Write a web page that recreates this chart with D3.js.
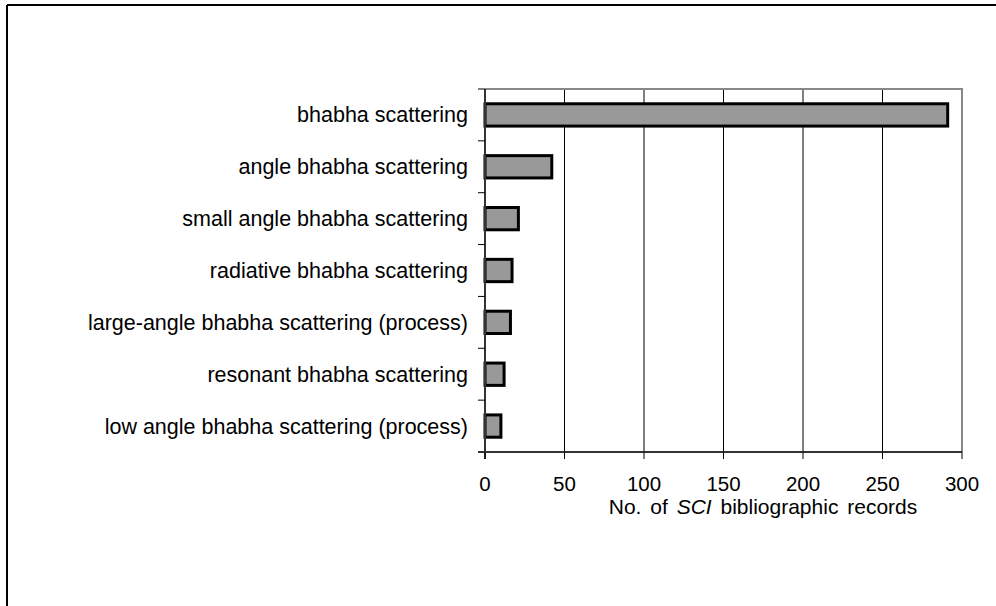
<!DOCTYPE html>
<html>
<head>
<meta charset="utf-8">
<script src="https://cdn.jsdelivr.net/npm/d3@7/dist/d3.min.js"></script>
<style>
  html, body { margin: 0; padding: 0; background: #fff; }
  svg { display: block; font-family: "Liberation Sans", Arial, sans-serif; }
</style>
</head>
<body>
<svg id="chart" width="996" height="606"></svg>
<script>
const categories = [
  "bhabha scattering",
  "angle bhabha scattering",
  "small angle bhabha scattering",
  "radiative bhabha scattering",
  "large-angle bhabha scattering (process)",
  "resonant bhabha scattering",
  "low angle bhabha scattering (process)"
];
const values = [291, 42, 21, 17, 16, 12, 10];
const xTicks = [0, 50, 100, 150, 200, 250, 300];

const svg = d3.select("#chart");
const m = { left: 485, right: 962, top: 89, bottom: 452 };

// outer frame (top and left only)
svg.append("line").attr("x1", 7).attr("y1", 5).attr("x2", 996).attr("y2", 5)
  .attr("stroke", "#000").attr("stroke-width", 2);
svg.append("line").attr("x1", 7).attr("y1", 5).attr("x2", 7).attr("y2", 606)
  .attr("stroke", "#000").attr("stroke-width", 2);

const x = d3.scaleLinear().domain([0, 300]).range([m.left, m.right]);
const y = d3.scaleBand().domain(categories).range([m.top, m.bottom]).padding(0);

// gridlines
svg.append("g").selectAll("line").data(xTicks.filter(t => t > 0 && t < 300)).join("line")
  .attr("x1", d => x(d)).attr("x2", d => x(d))
  .attr("y1", m.top).attr("y2", m.bottom)
  .attr("stroke", "#000").attr("stroke-width", 1);

// plot border top/right
svg.append("path")
  .attr("d", `M${m.left},${m.top}H${m.right}V${m.bottom}`)
  .attr("fill", "none").attr("stroke", "#888").attr("stroke-width", 2);

// bars
const barH = y.bandwidth() * 0.43;
svg.append("g").selectAll("rect").data(values).join("rect")
  .attr("x", x(0))
  .attr("y", (d, i) => y(categories[i]) + (y.bandwidth() - barH) / 2)
  .attr("width", d => x(d) - x(0))
  .attr("height", barH)
  .attr("fill", "#999999")
  .attr("stroke", "#000").attr("stroke-width", 3);

// y axis
const yAxis = svg.append("g");
yAxis.append("line").attr("x1", m.left).attr("x2", m.left)
  .attr("y1", m.top).attr("y2", m.bottom + 7)
  .attr("stroke", "#333").attr("stroke-width", 2);
const bounds = categories.map(c => y(c)).concat([m.bottom]);
yAxis.selectAll("line.tk").data(bounds).join("line").attr("class", "tk")
  .attr("x1", m.left - 7).attr("x2", m.left)
  .attr("y1", d => d).attr("y2", d => d)
  .attr("stroke", "#000").attr("stroke-width", 1);
yAxis.selectAll("text").data(categories).join("text")
  .attr("x", m.left - 17)
  .attr("y", d => y(d) + y.bandwidth() / 2)
  .attr("dy", "0.35em")
  .attr("text-anchor", "end")
  .attr("font-size", 21.5)
  .attr("fill", "#000")
  .text(d => d);

// x axis
const xAxis = svg.append("g");
xAxis.append("line").attr("x1", m.left - 7).attr("x2", m.right)
  .attr("y1", m.bottom).attr("y2", m.bottom)
  .attr("stroke", "#333").attr("stroke-width", 2);
xAxis.selectAll("line.tk").data(xTicks).join("line").attr("class", "tk")
  .attr("x1", d => x(d)).attr("x2", d => x(d))
  .attr("y1", m.bottom).attr("y2", m.bottom + 7)
  .attr("stroke", "#000").attr("stroke-width", 1);
xAxis.selectAll("text").data(xTicks).join("text")
  .attr("x", d => x(d))
  .attr("y", 484)
  .attr("dy", "0.35em")
  .attr("text-anchor", "middle")
  .attr("font-size", 20.5)
  .attr("fill", "#000")
  .text(d => d);

// axis title
const title = svg.append("text")
  .attr("x", 763).attr("y", 514)
  .attr("text-anchor", "middle")
  .attr("font-size", 21)
  .attr("fill", "#000")
  .attr("word-spacing", 3);
title.append("tspan").text("No. of ");
title.append("tspan").attr("font-style", "italic").text("SCI");
title.append("tspan").text(" bibliographic records");
</script>
</body>
</html>
